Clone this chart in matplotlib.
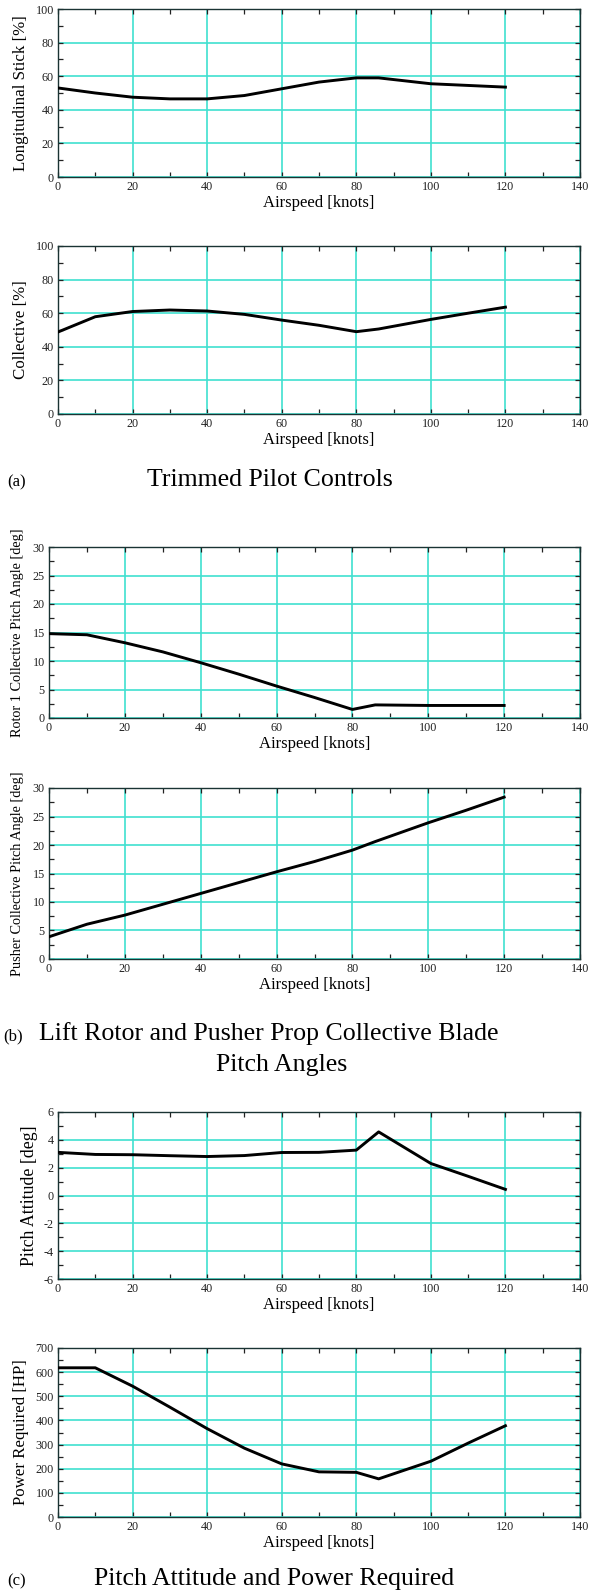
import matplotlib.pyplot as plt
from matplotlib.ticker import MultipleLocator

plt.rcParams['font.family'] = ['Liberation Serif', 'DejaVu Serif']
plt.rcParams['axes.unicode_minus'] = False

# airspeed sample points [knots]
airspeed = [0, 10, 20, 30, 40, 50, 60, 70, 80, 86, 100, 110, 120]

long_stick = [53, 50, 47.5, 46.5, 46.5, 48.5, 52.5, 56.5, 59, 59, 55.5, 54.5, 53.5]
collective = [48.8, 57.9, 61, 61.9, 61.3, 59.3, 55.9, 52.8, 49, 50.6, 56.3, 60, 63.6]
rotor1_pitch = [14.8, 14.6, 13.2, 11.6, 9.7, 7.7, 5.6, 3.6, 1.5, 2.3, 2.2, 2.2, 2.2]
pusher_pitch = [3.9, 6.1, 7.7, 9.6, 11.5, 13.4, 15.3, 17.1, 19.1, 20.6, 23.9, 26.1, 28.4]
pitch_att = [3.1, 2.95, 2.93, 2.86, 2.8, 2.87, 3.09, 3.1, 3.26, 4.57, 2.3, 1.38, 0.44]
power_req = [618, 618, 542, 455, 366, 285, 220, 187, 185, 158, 231, 306, 378]

W, H = 600, 1592
fig = plt.figure(figsize=(W / 100, H / 100), dpi=100)

GRID = '#40E0D0'


def make_ax(left, right, top, bottom, y, ylim, ymaj, ymin, ylabel, ylab_size, ylab_x):
    ax = fig.add_axes([left / W, 1 - bottom / H, (right - left) / W, (bottom - top) / H])
    ax.plot(airspeed, y, color='black', lw=2.1, zorder=3)
    ax.set_xlim(0, 140)
    ax.set_ylim(*ylim)
    ax.xaxis.set_major_locator(MultipleLocator(20))
    ax.xaxis.set_minor_locator(MultipleLocator(10))
    ax.yaxis.set_major_locator(MultipleLocator(ymaj))
    ax.yaxis.set_minor_locator(MultipleLocator(ymin))
    ax.grid(True, which='major', color=GRID, lw=1.2)
    ax.tick_params(which='both', direction='in', top=True, right=True,
                   length=3.5, width=0.9, labelsize=8.7, pad=3, colors='#222222')
    for s in ax.spines.values():
        s.set_color('#1a3333')
        s.set_linewidth(1.0)
    ax.set_xlabel('Airspeed [knots]', fontsize=12, labelpad=1)
    ax.set_ylabel(ylabel, fontsize=ylab_size, va='center')
    ax.yaxis.set_label_coords((ylab_x - left) / (right - left), 0.5)
    return ax


make_ax(58, 580, 9, 177, long_stick, (0, 100), 20, 10,
        'Longitudinal Stick [%]', 12.2, 21)
make_ax(58, 580, 246, 414, collective, (0, 100), 20, 10,
        'Collective [%]', 12.2, 21)
make_ax(49, 580, 547, 718, rotor1_pitch, (0, 30), 5, 2.5,
        'Rotor 1 Collective Pitch Angle [deg]', 10.3, 18)
make_ax(49, 580, 788, 959, pusher_pitch, (0, 30), 5, 2.5,
        'Pusher Collective Pitch Angle [deg]', 10.3, 18)
make_ax(58, 580, 1112, 1279, pitch_att, (-6, 6), 2, 1,
        'Pitch Attitude [deg]', 12.8, 29)
make_ax(58, 580, 1348, 1517, power_req, (0, 700), 100, 50,
        'Power Required [HP]', 12.2, 21)


def ftext(x, y, s, size, ha='left'):
    fig.text(x / W, 1 - y / H, s, fontsize=size, ha=ha, va='baseline')


ftext(7, 486, '(a)', 12)
ftext(270, 486, 'Trimmed Pilot Controls', 18.6, ha='center')
ftext(3, 1040, '(b)', 12)
ftext(39, 1040, 'Lift Rotor and Pusher Prop Collective Blade', 18.6)
ftext(282, 1071, 'Pitch Angles', 18.6, ha='center')
ftext(7, 1585, '(c)', 12)
ftext(274, 1585, 'Pitch Attitude and Power Required', 18.6, ha='center')

fig.savefig('out.png', dpi=100)
